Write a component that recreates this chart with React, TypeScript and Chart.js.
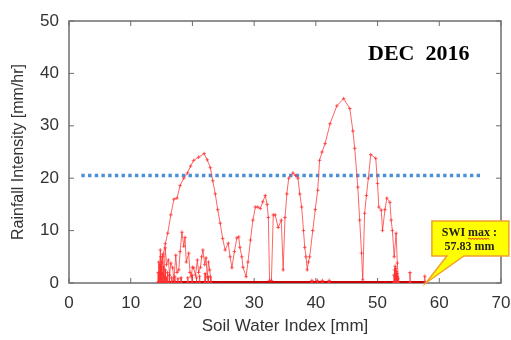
import React, { useEffect, useRef } from "react";
import { Chart, registerables } from "chart.js";
Chart.register(...registerables);

// ---- data ----
const X_TICKS = [0, 10, 20, 30, 40, 50, 60, 70];
const Y_TICKS = [0, 10, 20, 30, 40, 50];
const SWI_MAX = 57.83;
const SWI_START = 14.3;
const THRESHOLD = 20.5;
const THRESHOLD_X = [2, 67];

// main trajectory (SWI vs rainfall intensity)
const pathX = [14.6,14.8,15.2,15.6,16.0,16.5,17.0,17.5,18.0,18.6,19.2,19.7,20.2,21.0,21.9,22.4,22.9,23.3,23.7,24.1,24.5,24.9,25.3,25.8,26.1,26.4,26.8,27.2,27.5,27.7,28.0,28.2,28.7,29.0,29.4,29.8,30.2,30.6,31.0,31.4,31.8,32.1,32.3,32.5,32.8,33.1,33.4,33.9,34.4,34.7,35.0,35.3,35.6,36.3,36.7,37.1,37.4,37.7,38.0,38.2,38.4,38.6,38.8,39.0,39.5,39.9,40.3,40.6,41.0,41.5,42.3,43.4,44.5,45.5,46.0,46.3,46.8,47.1,47.4,47.6,47.9,48.2,48.5,48.9,49.7,50.0,50.2,50.6,50.8,51.2,51.5,52.0,52.2,52.4,52.7,53.0,53.2,53.4];
const pathY = [0,2,5,7.5,9.5,13,16,16.2,18.6,20,21,22.3,23.4,24,24.7,23.5,22,19.5,17,14,11.4,8.5,6.3,7.6,5,2.9,6,8.6,8.8,6.8,5,3,1.2,4,8.2,12,14.5,14.5,14.2,15.5,16.7,15,12.5,0.5,0.5,13,13,10.6,12,2.5,12.5,17,20,21,20.5,20,17,14.5,10,6.8,5,2.5,4,5,10,14,17.7,23.4,25,26.6,30.4,33.8,35.2,33.3,29,25.7,18.3,12,5.7,0.6,13.3,16.7,20,24.5,23.8,19,14.5,13.9,10,14,16.2,15.4,12,10,5,9.5,3.8,0];

// low-intensity tangle at the start
const tangleX = [14.5,14.7,14.8,15.0,15.2,15.4,15.6,15.8,16.1,16.3,16.5,16.8,17.0,17.3,17.5,17.8,18.0,18.3,18.6,18.8,19.0,19.4,19.6,19.8,20.0,20.2,20.5,20.8,21.0,21.3,21.5,21.7,22.0,22.2,22.4,22.6,22.8,22.9,23.0];
const tangleY = [0,3,6.3,2,5.5,1,6.7,3.5,4.4,1.5,3.8,2.9,0.5,5.3,2,2.5,6,9.7,7,8.7,4,5.7,2,1.2,3,2.9,1.5,4.4,2,3,5,6.3,3.5,4.8,1,4,2.5,1.2,0];

// short spikes rising from zero
const spikeX = [14.4,14.5,14.6,14.7,14.8,14.9,15.0,15.1,15.25,15.4,15.55,15.7,15.9,16.2,16.6,17.1,17.6,18.1,19.2,19.9,20.6,21.1,22.0,22.5,52.6,52.7,52.8,52.9,53.0,53.1,53.2,53.3,55.2,57.6,39.3,40.2,41.0,42.1];
const spikeH = [2,4,1.5,3.5,5,2.5,4,1.8,3,1.2,2.5,1,2,1.5,1,1.2,0.8,1,1,1.5,1,1.3,1.8,1.2,1.5,2.5,3.2,2.8,2.2,1.8,1.2,0.8,2,1.3,0.5,0.5,0.5,0.5];

const RED = "rgba(255,50,50,0.75)";

function zip(xs: number[], ys: number[]) {
  return xs.map((x, i) => ({ x, y: ys[i] }));
}

function spikeData() {
  const out: { x: number; y: number | null }[] = [];
  spikeX.forEach((x, i) => {
    out.push({ x, y: 0 }, { x: x + 0.05, y: spikeH[i] }, { x: x + 0.1, y: 0 }, { x: x + 0.1, y: null });
  });
  return out;
}

const framePlugin = {
  id: "frame",
  beforeDatasetsDraw(chart: any) {
    const { ctx, chartArea, scales } = chart;
    const { left, right, top, bottom } = chartArea;
    ctx.save();
    ctx.strokeStyle = "#6e6e6e";
    ctx.lineWidth = 1.5;
    ctx.strokeRect(left, top, right - left, bottom - top);
    ctx.lineWidth = 1;
    const tl = 5;
    ctx.beginPath();
    for (const v of X_TICKS) {
      const px = scales.x.getPixelForValue(v);
      ctx.moveTo(px, bottom); ctx.lineTo(px, bottom - tl);
      ctx.moveTo(px, top); ctx.lineTo(px, top + tl);
    }
    for (const v of Y_TICKS) {
      const py = scales.y.getPixelForValue(v);
      ctx.moveTo(left, py); ctx.lineTo(left + tl, py);
      ctx.moveTo(right, py); ctx.lineTo(right - tl, py);
    }
    ctx.stroke();
    ctx.restore();
  },
};

const annotPlugin = {
  id: "annot",
  afterDraw(chart: any) {
    const { ctx, chartArea, scales } = chart;
    ctx.save();
    // DEC 2016 label
    ctx.fillStyle = "#000";
    ctx.font = "bold 22px 'Liberation Serif', 'Times New Roman', serif";
    ctx.textBaseline = "alphabetic";
    ctx.textAlign = "left";
    ctx.fillText("DEC  2016", chartArea.right - 133, chartArea.top + 39);

    // callout
    const tx = scales.x.getPixelForValue(SWI_MAX);
    const ty = scales.y.getPixelForValue(0);
    const bl = tx + 6, bt = ty - 62, bw = 77, bh = 35;
    const bb = bt + bh;
    ctx.beginPath();
    ctx.moveTo(bl, bt);
    ctx.lineTo(bl + bw, bt);
    ctx.lineTo(bl + bw, bb);
    ctx.lineTo(tx + 38, bb);
    ctx.lineTo(tx, ty);
    ctx.lineTo(tx + 21, bb);
    ctx.lineTo(bl, bb);
    ctx.closePath();
    ctx.fillStyle = "#ffff00";
    ctx.fill();
    ctx.strokeStyle = "#f0a030";
    ctx.lineWidth = 1.5;
    ctx.stroke();

    ctx.fillStyle = "#222";
    ctx.font = "bold 12px 'Liberation Serif', 'Times New Roman', serif";
    ctx.textAlign = "center";
    const cx = bl + bw / 2 - 1;
    ctx.fillText("SWI max :", cx, bt + 15);
    ctx.fillText("57.83 mm", cx, bt + 29);
    // spell-check squiggle under "max"
    const w = ctx.measureText("SWI max :").width;
    const sx = cx - w / 2 + ctx.measureText("SWI ").width;
    const ex = sx + ctx.measureText("max").width;
    ctx.strokeStyle = "#e02020";
    ctx.lineWidth = 1;
    ctx.beginPath();
    let up = true;
    ctx.moveTo(sx, bt + 18);
    for (let x = sx + 1.5; x <= ex; x += 1.5) {
      ctx.lineTo(x, up ? bt + 17 : bt + 18.5);
      up = !up;
    }
    ctx.stroke();
    ctx.restore();
  },
};

export default function App() {
  const ref = useRef<HTMLCanvasElement>(null);
  useEffect(() => {
    document.body.style.margin = "0";
    const canvas = ref.current!;
    const common = {
      borderColor: RED,
      borderWidth: 1,
      pointStyle: "cross",
      pointRadius: 1.8,
      pointBorderColor: RED,
      pointBorderWidth: 1,
      showLine: true,
      fill: false,
      tension: 0,
    };
    const chart = new Chart(canvas, {
      type: "scatter",
      data: {
        datasets: [
          { ...common, data: zip(tangleX, tangleY) },
          { ...common, data: zip(pathX, pathY) },
          { ...common, data: spikeData(), spanGaps: false },
          {
            data: [{ x: SWI_START, y: 0 }, { x: SWI_MAX, y: 0 }],
            borderColor: "#cc0000",
            borderWidth: 4,
            pointRadius: 0,
            showLine: true,
          },
          {
            data: THRESHOLD_X.map((x) => ({ x, y: THRESHOLD })),
            borderColor: "#4a90d6",
            borderWidth: 3.5,
            borderDash: [3.4, 3.3],
            borderCapStyle: "butt",
            pointRadius: 0,
            showLine: true,
          },
        ] as any,
      },
      options: {
        responsive: false,
        animation: false,
        layout: { padding: { top: 21, right: 0, left: 0, bottom: 0 } },
        plugins: { legend: { display: false }, tooltip: { enabled: false } },
        scales: {
          x: {
            type: "linear",
            min: 0,
            max: 70,
            afterFit: (s: any) => { s.height = 57; s.paddingRight = 10; s.paddingLeft = 0; },
            grid: { display: false, drawTicks: false },
            border: { display: false },
            ticks: {
              stepSize: 10,
              padding: 10,
              color: "#333",
              font: { family: "'Liberation Sans', Arial, sans-serif", size: 17 },
            },
            title: {
              display: true,
              text: "Soil Water Index [mm]",
              color: "#333",
              font: { family: "'Liberation Sans', Arial, sans-serif", size: 17 },
              padding: { top: 0, bottom: 3 },
            },
          },
          y: {
            type: "linear",
            min: 0,
            max: 50,
            afterFit: (s: any) => { s.width = 69; },
            grid: { display: false, drawTicks: false },
            border: { display: false },
            ticks: {
              stepSize: 10,
              padding: 10,
              color: "#333",
              font: { family: "'Liberation Sans', Arial, sans-serif", size: 17 },
            },
            title: {
              display: true,
              text: "Rainfall Intensity [mm/hr]",
              color: "#333",
              font: { family: "'Liberation Sans', Arial, sans-serif", size: 16 },
              padding: { top: 9, bottom: 0 },
            },
          },
        },
      } as any,
      plugins: [framePlugin, annotPlugin],
    });
    return () => chart.destroy();
  }, []);
  return (
    <div style={{ position: "absolute", left: 0, top: 0, width: 511, height: 340, background: "#fff" }}>
      <canvas ref={ref} width={511} height={340} />
    </div>
  );
}
